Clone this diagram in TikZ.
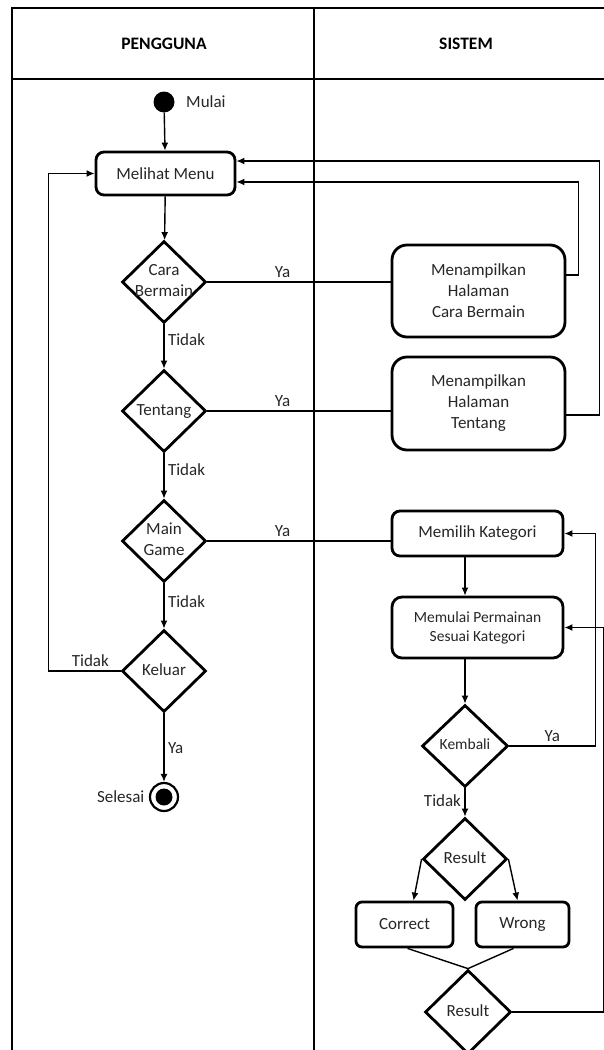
\documentclass[tikz,border=0pt]{standalone}
\usepackage{fontspec}
\setmainfont{Carlito}
\usetikzlibrary{arrows.meta,shapes.geometric,positioning}
\newcommand{\dtext}[1]{\makebox[0pt]{\begin{tabular}{@{}c@{}}#1\end{tabular}}}

\begin{document}
\begin{tikzpicture}[x=1pt,y=-1pt,font=\fontsize{17}{21}\selectfont,box/.style={draw,line width=2.8pt,rounded corners=8pt,align=center,text=black!85},dec/.style={draw,diamond,line width=2.8pt,minimum width=84pt,minimum height=82pt,inner sep=0pt,text=black!85},arrow/.style={-{Latex[length=8pt,width=7pt]},line width=1.4pt},line/.style={line width=1.4pt},lbl/.style={text=black!85},lane/.style={font=\bfseries\fontsize{17.5}{21}\selectfont},small/.style={font=\fontsize{15.5}{19}\selectfont}]
\useasboundingbox (0,0) rectangle (604,1050);
\draw[line width=1.8pt] (12,1060) -- (12,8) -- (630,8) (12,79) -- (630,79) (314,8) -- (314,1060);
\node[lane] (pengguna) at (164,44) {PENGGUNA};
\node[lane] (sistem) at (466,44) {SISTEM};
\node[circle,fill=black,minimum size=21pt,inner sep=0pt] (start) at (164,102) {};
\node[lbl,right=8pt of start] (mulai) {Mulai};
\node[box,minimum width=139pt,minimum height=43pt] (menu) at (165.5,173.5) {Melihat Menu};
\node[dec] (cara) at (164,282) {\dtext{Cara\\Bermain}};
\node[dec] (tentang) at (164,411) {\dtext{Tentang}};
\node[dec] (game) at (164,541) {\dtext{Main\\Game}};
\node[dec] (keluar) at (164,671) {\dtext{Keluar}};
\node[circle,draw,line width=2.2pt,minimum size=28pt,inner sep=0pt] (end) at (164,797) {};
\fill (end.center) circle (8.5pt);
\node[lbl,left=1pt of end] (selesai) {Selesai};
\node[box,rounded corners=15pt,minimum width=173pt,minimum height=92pt] (cbox) at (478.5,291) {Menampilkan\\Halaman\\Cara Bermain};
\node[box,rounded corners=15pt,minimum width=173pt,minimum height=93pt] (tbox) at (478.5,403.5) {Menampilkan\\Halaman\\Tentang};
\node[box,minimum width=171pt,minimum height=45pt] (pilih) at (477.5,533.5) {Memilih Kategori};
\node[box,small,rounded corners=10pt,minimum width=171pt,minimum height=61pt] (permainan) at (477.5,627.5) {Memulai Permainan\\Sesuai Kategori};
\node[dec,small,minimum width=86pt] (kembali) at (465,746) {\dtext{Kembali}};
\node[dec] (res) at (465,859) {\dtext{Result}};
\node[box,rounded corners=6pt,minimum width=97pt,minimum height=45pt] (correct) at (404.5,924.5) {Correct};
\node[box,rounded corners=6pt,minimum width=93pt,minimum height=45pt] (wrong) at (522.5,924.5) {Wrong};
\node[dec,minimum width=86pt,minimum height=84pt] (res2) at (468,1012) {\dtext{Result}};
\draw[arrow] (start)--(menu); \draw[arrow] (menu)--(cara);
\draw[arrow] (cara)--node[lbl,right,pos=0.35] (t1) {Tidak} (tentang);
\draw[arrow] (tentang)--node[lbl,right,pos=0.35] (t2) {Tidak} (game);
\draw[arrow] (game)--node[lbl,right,pos=0.4] (t3) {Tidak} (keluar);
\draw[arrow] (keluar)--node[lbl,right] (y4) {Ya} (end);
\draw[arrow] (keluar.west)--node[lbl,above,pos=0.42] (t4) {Tidak} ++(-72,0) |- (menu.west);
\draw[line] (cara.east)--node[lbl,above,pos=0.41] (y1) {Ya} (cara.east-|cbox.west);
\draw[line] (tentang.east)--node[lbl,above,pos=0.41] (y2) {Ya} (tentang.east-|tbox.west);
\draw[line] (game.east)--node[lbl,above,pos=0.41] (y3) {Ya} (game.east-|pilih.west);
\draw[arrow] ([yshift=16pt]cbox.east)--++(12,0) |- ([yshift=-8.5pt]menu.east);
\draw[arrow] ([yshift=-11.5pt]tbox.east)--++(33,0) |- ([yshift=12.5pt]menu.east);
\draw[arrow] (pilih.south-|kembali)--(permainan.north-|kembali); \draw[arrow] (permainan.south-|kembali)--(kembali);
\draw[arrow] (kembali.east)--node[lbl,above] (y5) {Ya} ++(86,0) |- (pilih.east);
\draw[arrow] (kembali)--node[lbl,left,pos=0.43] (t5) {Tidak} (res);
\draw[arrow] (res.west)--([xshift=9pt]correct.north); \draw[arrow] (res.east)--([xshift=-5pt]wrong.north);
\draw[line] ([xshift=3pt]correct.south)--(res2.north); \draw[line] ([xshift=-9pt]wrong.south)--(res2.north);
\draw[arrow] (res2.east)--++(91,0) |- (permainan.east);
\end{tikzpicture}
\end{document}
